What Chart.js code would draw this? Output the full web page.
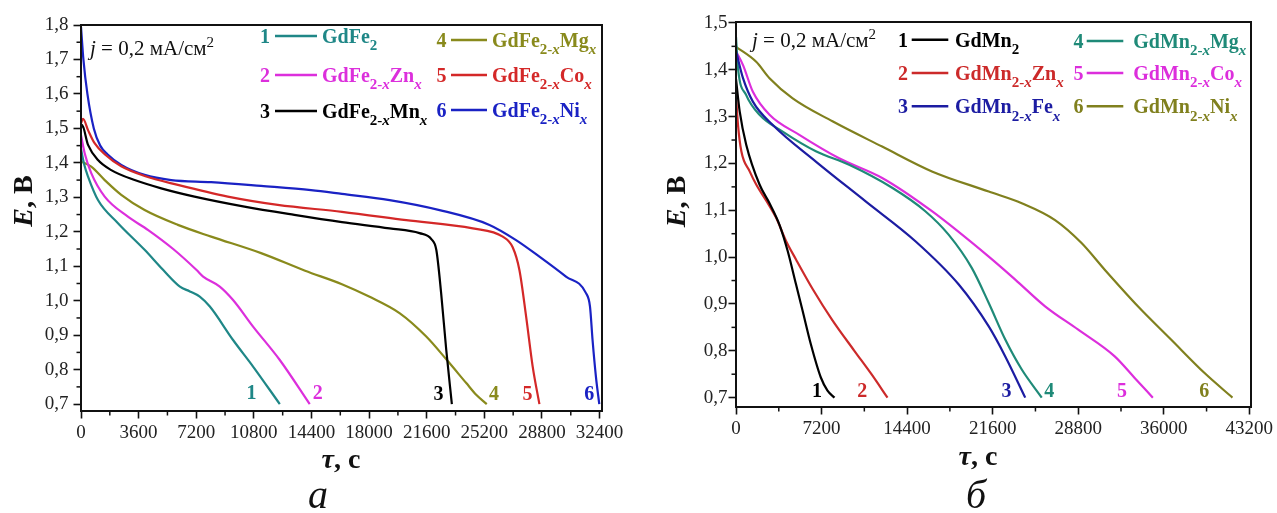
<!DOCTYPE html>
<html>
<head>
<meta charset="utf-8">
<title>E(τ) GdFe2 / GdMn2</title>
<script src="https://cdn.jsdelivr.net/npm/chart.js@4.4.1/dist/chart.umd.min.js"></script>
<style>
  html, body { margin: 0; padding: 0; background: #fff; }
  .panel { position: absolute; top: 0; }
</style>
</head>
<body>
<canvas id="chart-a" class="panel" width="640" height="513" style="left:0"></canvas>
<canvas id="chart-b" class="panel" width="637" height="513" style="left:640px"></canvas>
<script>
// ---- panel а : GdFe2-xMx ----
const tauTicksA = [0, 3600, 7200, 10800, 14400, 18000, 21600, 25200, 28800, 32400];
const eTicksA = [0.7, 0.8, 0.9, 1.0, 1.1, 1.2, 1.3, 1.4, 1.5, 1.6, 1.7, 1.8];
const namesA = ["GdFe_{2}", "GdFe_{2-x}Zn_{x}", "GdFe_{2-x}Mn_{x}", "GdFe_{2-x}Mg_{x}", "GdFe_{2-x}Co_{x}", "GdFe_{2-x}Ni_{x}"];
const colorsA = ["#1f8787", "#dc2fdc", "#000000", "#898a1c", "#d42828", "#1a22c4"];
const a1 = [[0, 1.44], [200, 1.395], [440, 1.36], [1060, 1.292], [2310, 1.225], [3990, 1.147], [5140, 1.089], [6180, 1.041], [6800, 1.027], [7420, 1.012], [8050, 0.983], [9500, 0.886], [10750, 0.809], [12420, 0.70]];
const a2 = [[0, 1.48], [230, 1.428], [640, 1.37], [1480, 1.302], [2930, 1.244], [4200, 1.205], [5760, 1.15], [7220, 1.089], [7630, 1.07], [8670, 1.041], [9500, 1.002], [10750, 0.925], [12420, 0.828], [14290, 0.70]];
const a3 = [[0, 1.50], [60, 1.51], [440, 1.452], [1060, 1.408], [1890, 1.379], [3350, 1.35], [5010, 1.326], [7090, 1.302], [10210, 1.273], [13330, 1.249], [16300, 1.228], [19280, 1.21], [21150, 1.196], [21900, 1.178], [22200, 1.147], [22500, 1.022], [22820, 0.857], [23170, 0.70]];
const a4 = [[0, 1.404], [640, 1.389], [1480, 1.35], [2515, 1.307], [3975, 1.263], [6050, 1.22], [8130, 1.186], [11250, 1.138], [14000, 1.087], [16300, 1.048], [18000, 1.012], [19900, 0.964], [21570, 0.896], [22820, 0.83], [24070, 0.761], [24690, 0.727], [25350, 0.70]];
const a5 = [[0, 1.515], [125, 1.528], [440, 1.495], [850, 1.457], [1480, 1.425], [2515, 1.39], [3975, 1.362], [6050, 1.336], [9170, 1.302], [12290, 1.278], [16300, 1.258], [20320, 1.234], [24480, 1.21], [26350, 1.186], [26970, 1.155], [27390, 1.089], [27810, 0.954], [28220, 0.809], [28640, 0.70]];
const a6 = [[0, 1.795], [150, 1.70], [400, 1.60], [800, 1.50], [1200, 1.45], [1650, 1.425], [2515, 1.394], [3975, 1.365], [5635, 1.35], [8130, 1.344], [11250, 1.333], [14370, 1.321], [16300, 1.31], [19280, 1.292], [22400, 1.263], [25520, 1.22], [27180, 1.176], [28640, 1.128], [30300, 1.07], [31550, 1.022], [31800, 0.983], [31960, 0.886], [32170, 0.78], [32380, 0.70]];
const curvesA = [a1, a2, a3, a4, a5, a6];
const labelTauA = [10650, 14790, 22340, 25810, 27890, 31760];
const labelEA = [0.715, 0.715, 0.712, 0.712, 0.712, 0.712];

// ---- panel б : GdMn2-xMx ----
const tauTicksB = [0, 7200, 14400, 21600, 28800, 36000, 43200];
const eTicksB = [0.7, 0.8, 0.9, 1.0, 1.1, 1.2, 1.3, 1.4, 1.5];
const namesB = ["GdMn_{2}", "GdMn_{2-x}Zn_{x}", "GdMn_{2-x}Fe_{x}", "GdMn_{2-x}Mg_{x}", "GdMn_{2-x}Co_{x}", "GdMn_{2-x}Ni_{x}"];
const colorsB = ["#000000", "#cc2a2a", "#1c1ca2", "#1f8a78", "#dc2edc", "#80801e"];
const b1 = [[0, 1.38], [310, 1.311], [860, 1.24], [1980, 1.155], [2820, 1.115], [3660, 1.069], [4350, 1.013], [5050, 0.942], [5610, 0.885], [6300, 0.814], [7140, 0.743], [7700, 0.715], [8290, 0.70]];
const b2 = [[0, 1.345], [170, 1.282], [450, 1.226], [1150, 1.183], [1700, 1.155], [2800, 1.11], [3380, 1.084], [4200, 1.035], [5050, 0.995], [6450, 0.932], [8120, 0.865], [9960, 0.80], [11400, 0.75], [12750, 0.70]];
const b3 = [[0, 1.44], [590, 1.382], [1420, 1.332], [3100, 1.282], [6720, 1.204], [10910, 1.119], [15100, 1.034], [18730, 0.942], [21270, 0.852], [22660, 0.788], [24340, 0.70]];
const b4 = [[0, 1.47], [170, 1.403], [860, 1.346], [1980, 1.304], [3930, 1.268], [6720, 1.226], [9520, 1.197], [13140, 1.148], [15930, 1.098], [17890, 1.048], [19840, 0.977], [21270, 0.902], [22660, 0.824], [24050, 0.76], [25730, 0.70]];
const b5 = [[0, 1.439], [590, 1.41], [1420, 1.353], [2820, 1.304], [5330, 1.261], [8680, 1.211], [12300, 1.169], [16490, 1.098], [21270, 1.001], [23500, 0.952], [26010, 0.895], [28800, 0.845], [31870, 0.788], [33550, 0.742], [35080, 0.70]];
const b6 = [[0, 1.449], [1700, 1.417], [2820, 1.382], [4770, 1.339], [8120, 1.29], [12300, 1.236], [16490, 1.183], [21270, 1.14], [24050, 1.115], [26850, 1.079], [29080, 1.03], [31030, 0.973], [33820, 0.895], [36610, 0.824], [39410, 0.753], [41780, 0.70]];
const curvesB = [b1, b2, b3, b4, b5, b6];
const labelTauB = [6820, 10630, 22770, 26370, 32480, 39410];
const labelEB = [0.702, 0.702, 0.702, 0.702, 0.702, 0.702];

const SERIF = '"Liberation Serif", "Times New Roman", serif';

// text with _{sub} / ^{sup}; an "x" inside a sub is italic
function runs(text) {
  const out = [];
  const re = /_\{([^}]*)\}|\^\{([^}]*)\}|([^_^]+)/g;
  let m;
  while ((m = re.exec(text))) {
    if (m[3] !== undefined) { out.push({ t: m[3], mode: "base" }); continue; }
    const mode = m[1] !== undefined ? "sub" : "sup";
    const s = m[1] !== undefined ? m[1] : m[2];
    s.split(/(x)/).filter(Boolean).forEach(p => out.push({ t: p, mode, it: p === "x" }));
  }
  return out;
}

function drawRich(ctx, text, x, y, size, color, weight) {
  let cx = x;
  ctx.fillStyle = color;
  ctx.textAlign = "left";
  ctx.textBaseline = "alphabetic";
  for (const r of runs(text)) {
    const small = r.mode !== "base";
    const fs = small ? Math.round(size * 0.74) : size;
    ctx.font = `${r.it ? "italic " : ""}${weight} ${fs}px ${SERIF}`;
    const dy = r.mode === "sub" ? size * 0.36 : r.mode === "sup" ? -size * 0.36 : 0;
    ctx.fillText(r.t, cx, y + dy);
    cx += ctx.measureText(r.t).width;
  }
  return cx - x;
}

function drawPieces(ctx, pieces, x, y) {
  let cx = x;
  for (const [t, f] of pieces) {
    ctx.font = f;
    ctx.fillText(t, cx, y);
    cx += ctx.measureText(t).width;
  }
  return cx - x;
}
function piecesWidth(ctx, pieces) {
  let w = 0;
  for (const [t, f] of pieces) { ctx.font = f; w += ctx.measureText(t).width; }
  return w;
}

const decorPlugin = {
  id: "decor",
  afterDraw(chart, args, o) {
    const ctx = chart.ctx;
    const area = chart.chartArea;
    const xs = chart.scales.x, ys = chart.scales.y;
    ctx.save();

    // frame
    ctx.strokeStyle = "#111";
    ctx.lineWidth = 2;
    ctx.strokeRect(area.left, area.top, area.right - area.left, area.bottom - area.top);

    // minor ticks halfway between major ones
    ctx.lineWidth = 1.5;
    for (let i = 0; i < o.xTicks.length - 1; i++) {
      const px = xs.getPixelForValue((o.xTicks[i] + o.xTicks[i + 1]) / 2);
      ctx.beginPath(); ctx.moveTo(px, area.bottom); ctx.lineTo(px, area.bottom + 4.5); ctx.stroke();
    }
    for (let i = 0; i < o.yTicks.length - 1; i++) {
      const py = ys.getPixelForValue((o.yTicks[i] + o.yTicks[i + 1]) / 2);
      ctx.beginPath(); ctx.moveTo(area.left, py); ctx.lineTo(area.left - 4.5, py); ctx.stroke();
    }

    // current density note
    ctx.fillStyle = "#111";
    ctx.textBaseline = "alphabetic";
    ctx.textAlign = "left";
    const jw = drawPieces(ctx, [["j", `italic 21px ${SERIF}`], [" = 0,2 мА/см", `21px ${SERIF}`]], o.jPos[0], o.jPos[1]);
    ctx.font = `15px ${SERIF}`;
    ctx.fillText("2", o.jPos[0] + jw, o.jPos[1] - 8);

    // legend
    o.names.forEach((name, i) => {
      const col = i < 3 ? 0 : 1;
      const row = i % 3;
      const L = o.legend[col];
      const base = L.rows[row];
      const color = o.colors[i];
      ctx.fillStyle = color;
      ctx.font = `bold 20px ${SERIF}`;
      ctx.textAlign = "center";
      ctx.fillText(String(i + 1), L.num, base);
      ctx.strokeStyle = color;
      ctx.lineWidth = 2.4;
      ctx.beginPath(); ctx.moveTo(L.line[0], base - 7); ctx.lineTo(L.line[1], base - 7); ctx.stroke();
      drawRich(ctx, name, L.text, base, 20, color, "bold");
    });

    // curve numbers at the ends of the curves
    ctx.textAlign = "center";
    ctx.font = `bold 20px ${SERIF}`;
    o.labelTau.forEach((t, i) => {
      ctx.fillStyle = o.colors[i];
      ctx.fillText(String(i + 1), xs.getPixelForValue(t), ys.getPixelForValue(o.labelE[i]));
    });

    // axis titles
    ctx.fillStyle = "#111";
    ctx.textAlign = "left";
    const yTitle = [["E", `italic bold 28px ${SERIF}`], [", В", `bold 28px ${SERIF}`]];
    ctx.save();
    ctx.translate(o.yTitle[0], o.yTitle[1]);
    ctx.rotate(-Math.PI / 2);
    drawPieces(ctx, yTitle, -piecesWidth(ctx, yTitle) / 2, 0);
    ctx.restore();
    const xTitle = [["τ", `italic bold 28px ${SERIF}`], [", с", `bold 28px ${SERIF}`]];
    drawPieces(ctx, xTitle, o.xTitle[0] - piecesWidth(ctx, xTitle) / 2, o.xTitle[1]);

    // panel letter
    ctx.textAlign = "center";
    ctx.font = `italic 40px ${SERIF}`;
    ctx.fillText(o.letter, o.letterPos[0], o.letterPos[1]);

    ctx.restore();
  }
};

function makeChart(id, curves, colors, xMax, yMin, yMax, xTicks, yTicks, box, decor) {
  const fmtE = v => v.toFixed(1).replace(".", ",");
  return new Chart(document.getElementById(id), {
    type: "line",
    data: {
      datasets: curves.map((c, i) => ({
        data: c.map(([t, e]) => ({ x: t, y: e })),
        borderColor: colors[i],
        borderWidth: 2.2,
        pointRadius: 0,
        fill: false,
        cubicInterpolationMode: "monotone",
      })),
    },
    options: {
      responsive: false,
      animation: false,
      layout: { padding: { top: box.top, right: box.right, left: 0, bottom: 0 } },
      plugins: { legend: { display: false }, tooltip: { enabled: false }, decor },
      scales: {
        x: {
          type: "linear", min: 0, max: xMax,
          afterBuildTicks: s => { s.ticks = xTicks.map(v => ({ value: v })); },
          afterFit: s => { s.height = box.xh; },
          ticks: { font: { family: SERIF, size: 19 }, color: "#222", padding: 3, maxRotation: 0, autoSkip: false, callback: v => String(v) },
          grid: { drawOnChartArea: false, tickLength: 7.5, tickColor: "#111", tickWidth: 1.6 },
          border: { color: "#111", width: 2 },
        },
        y: {
          min: yMin, max: yMax,
          afterBuildTicks: s => { s.ticks = yTicks.map(v => ({ value: v })); },
          afterFit: s => { s.width = box.yw; },
          ticks: { font: { family: SERIF, size: 19 }, color: "#222", padding: box.ypad, autoSkip: false, callback: v => fmtE(v) },
          grid: { drawOnChartArea: false, tickLength: 7.5, tickColor: "#111", tickWidth: 1.6 },
          border: { color: "#111", width: 2 },
        },
      },
    },
    plugins: [decorPlugin],
  });
}

makeChart("chart-a", curvesA, colorsA, 32550, 0.68, 1.8, tauTicksA, eTicksA,
  { top: 25, right: 38, xh: 102, yw: 81, ypad: 5 },
  {
    xTicks: tauTicksA, yTicks: eTicksA, names: namesA, colors: colorsA,
    labelTau: labelTauA, labelE: labelEA,
    jPos: [90, 55],
    legend: [
      { num: 265, line: [275, 317], text: 322, rows: [43, 82, 118] },
      { num: 441.5, line: [451, 487], text: 492, rows: [47, 82, 117] },
    ],
    yTitle: [32, 201], xTitle: [341, 468], letter: "а", letterPos: [318, 508],
  });

makeChart("chart-b", curvesB, colorsB, 43340, 0.68, 1.502, tauTicksB, eTicksB,
  { top: 22, right: 26, xh: 106, yw: 96, ypad: 1 },
  {
    xTicks: tauTicksB, yTicks: eTicksB, names: namesB, colors: colorsB,
    labelTau: labelTauB, labelE: labelEB,
    jPos: [112, 46.5],
    legend: [
      { num: 263, line: [271.7, 308.3], text: 315, rows: [46.7, 80, 113.3] },
      { num: 438.5, line: [446.7, 483.3], text: 493.3, rows: [48, 80, 113.3] },
    ],
    yTitle: [45, 201.5], xTitle: [338, 465], letter: "б", letterPos: [336, 508],
  });
</script>
</body>
</html>
